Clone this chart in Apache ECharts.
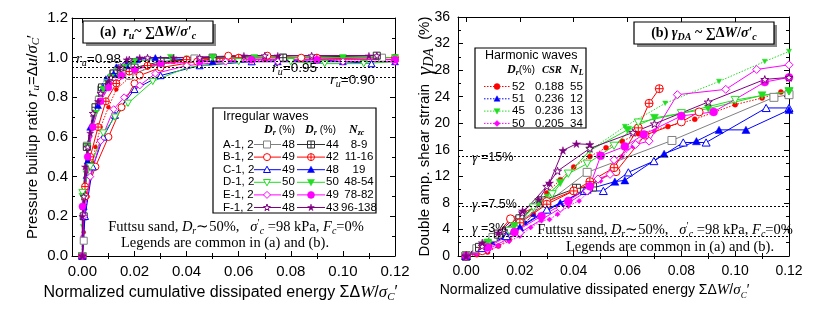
<!DOCTYPE html>
<html><head><meta charset="utf-8">
<script src="https://cdn.jsdelivr.net/npm/echarts@6/dist/echarts.min.js"></script>
<style>html,body{margin:0;padding:0;background:#fff}#c{width:831px;height:317px}</style>
</head><body><div id="c"></div><script>
// ---------- data ----------
const xTicks = [0, 0.02, 0.04, 0.06, 0.08, 0.10, 0.12];
const xMinor = [0.01, 0.03, 0.05, 0.07, 0.09, 0.11];
const caseLabels = ['A-1, 2', 'B-1, 2', 'C-1, 2', 'D-1, 2', 'E-1, 2', 'F-1, 2'];
const drOpen = [48, 49, 49, 50, 49, 48];
const drFilled = [44, 42, 48, 50, 49, 43];
const nzc = ['8-9', '11-16', '19', '48-54', '78-82', '96-138'];
const hDr = [52, 51, 45, 50];
const hCSR = ['0.188', '0.236', '0.236', '0.205'];
const hNL = [55, 12, 13, 34];
const ruLines = [0.98, 0.95, 0.90];
const gammaLines = [15, 7.5, 3];

// (a) pore pressure ratio
const ruA1 = [[0,0],[0.0005,0.077],[0.0017,0.556],[0.0063,0.787],[0.0072,0.84],[0.0118,0.92],[0.018,0.91],[0.03,0.97],[0.043,0.996],[0.077,1.0],[0.115,1.0]];
const ruA2 = [[0,0],[0.0005,0.2],[0.0017,0.55],[0.005,0.75],[0.0075,0.85],[0.012,0.92],[0.02,0.95],[0.03,0.98],[0.05,1.0],[0.077,1.0],[0.113,1.01]];
const ruB1 = [[0,0],[0.001,0.3],[0.005,0.45],[0.01,0.6],[0.015,0.75],[0.02,0.87],[0.022,0.91],[0.03,0.95],[0.044,0.98],[0.056,1.01],[0.071,1.01],[0.084,1.0],[0.12,0.99]];
const ruB2 = [[0,0],[0.001,0.35],[0.003,0.5],[0.006,0.65],[0.009,0.78],[0.013,0.87],[0.018,0.93],[0.025,0.96],[0.04,0.99],[0.06,1.0],[0.09,1.0],[0.12,1.0]];
const ruC1 = [[0,0],[0.001,0.2],[0.004,0.45],[0.008,0.6],[0.0125,0.71],[0.02,0.84],[0.03,0.91],[0.045,0.96],[0.065,0.98],[0.09,0.99],[0.111,0.97]];
const ruC2 = [[0,0],[0.0005,0.25],[0.002,0.48],[0.003,0.65],[0.006,0.76],[0.008,0.85],[0.012,0.92],[0.017,0.96],[0.021,0.99],[0.028,1.0],[0.05,0.98],[0.075,0.98],[0.1,0.98],[0.12,0.98]];
const ruD1 = [[0,0],[0,0.32],[0.003,0.45],[0.008,0.62],[0.0125,0.7],[0.0175,0.77],[0.027,0.88],[0.04,0.95],[0.06,0.98],[0.08,0.98],[0.093,0.97],[0.108,0.97],[0.12,0.98]];
const ruD2 = [[0,0],[0,0.3],[0.002,0.55],[0.005,0.72],[0.008,0.84],[0.011,0.9],[0.016,0.95],[0.02,0.98],[0.034,1.0],[0.05,1.0],[0.066,1.0],[0.1,1.0],[0.12,1.0]];
const ruE1 = [[0,0],[0.0005,0.2],[0.003,0.4],[0.007,0.58],[0.012,0.74],[0.016,0.8],[0.022,0.86],[0.028,0.92],[0.04,0.96],[0.055,0.98],[0.075,0.98],[0.1,0.98],[0.12,0.98]];
const ruE2 = [[0,0],[0,0.25],[0.002,0.5],[0.004,0.65],[0.007,0.78],[0.01,0.85],[0.015,0.91],[0.02,0.94],[0.03,0.97],[0.045,0.98],[0.065,0.99],[0.09,0.99],[0.12,0.99]];
const ruF1 = [[0,0],[0.0005,0.3],[0.002,0.55],[0.004,0.72],[0.007,0.82],[0.011,0.9],[0.015,0.95],[0.018,0.99],[0.025,1.0],[0.045,1.0],[0.07,1.01],[0.088,1.01],[0.113,1.01]];
const ruF2 = [[0,0],[0,0.2],[0.001,0.45],[0.003,0.62],[0.006,0.78],[0.01,0.88],[0.014,0.95],[0.017,0.99],[0.022,1.0],[0.035,1.0],[0.062,1.01],[0.075,1.01],[0.11,1.01]];
const ruH1 = [[0,0],[0.0005,0.12],[0.001,0.2],[0.002,0.3],[0.003,0.4],[0.004,0.47],[0.005,0.55],[0.007,0.65],[0.01,0.75],[0.013,0.84],[0.018,0.9],[0.025,0.95],[0.035,0.98],[0.05,0.99],[0.07,0.99],[0.09,0.99],[0.12,0.99]];
const ruH2 = [[0,0],[0,0.1],[0.0005,0.25],[0.001,0.4],[0.002,0.55],[0.003,0.65],[0.005,0.75],[0.007,0.85],[0.009,0.9],[0.013,0.96],[0.017,0.98],[0.025,1.0],[0.03,1.0]];
const ruH3 = [[0,0],[0,0.15],[0.0005,0.3],[0.001,0.42],[0.002,0.55],[0.004,0.7],[0.006,0.8],[0.009,0.88],[0.013,0.94],[0.018,0.97],[0.025,0.99],[0.04,1.0],[0.06,1.0],[0.09,1.0],[0.12,1.0]];
const ruH4 = [[0,0],[0,0.1],[0.0005,0.2],[0.001,0.3],[0.0015,0.4],[0.002,0.5],[0.003,0.6],[0.004,0.68],[0.006,0.75],[0.008,0.82],[0.011,0.87],[0.015,0.92],[0.02,0.95],[0.03,0.97],[0.05,0.98],[0.08,0.99],[0.12,0.99]];

// (b) double amplitude shear strain (%)
const gdA1 = [[0,0],[0.004,1.1],[0.01,2.8],[0.02,5.2],[0.03,8.0],[0.045,12.6],[0.0765,17.4],[0.1144,23.9],[0.12,24.3]];
const gdA2 = [[0,0],[0.005,1.3],[0.012,3.3],[0.02,5.6],[0.028,8.3],[0.041,10.2],[0.047,10.4]];
const gdB1 = [[0,0],[0.006,0.8],[0.0165,5.6],[0.03,8.2],[0.046,10.8],[0.0557,12.7],[0.0665,18.2],[0.080,20.2],[0.0866,21.7]];
const gdB2 = [[0,0],[0.008,1.5],[0.02,5],[0.03,7.8],[0.04,9.8],[0.046,11.2],[0.055,13.3],[0.064,19.3],[0.068,23],[0.0718,25.2]];
const gdC1 = [[0,0],[0.006,1.2],[0.015,3],[0.03,7],[0.044,9.8],[0.051,9.8],[0.0603,12.6],[0.0698,14.3],[0.0807,17.1],[0.0892,17.1],[0.1115,22.3],[0.12,22.3]];
const gdC2 = [[0,0],[0.008,1.8],[0.02,4.3],[0.035,8],[0.045,10],[0.0553,11.2],[0.059,11.4],[0.0736,15.4],[0.0856,17.3],[0.094,19],[0.104,19],[0.12,22]];
const gdD1 = [[0,0],[0.008,1.8],[0.016,3.8],[0.025,7.3],[0.032,9.3],[0.038,12.4],[0.045,13.9],[0.055,16.6],[0.064,20.1],[0.08,21.5],[0.1,23.5],[0.12,24.8]];
const gdD2 = [[0,0],[0.008,2],[0.018,4.5],[0.027,8],[0.035,11],[0.046,15.9],[0.06,19],[0.07,20.8],[0.09,22.2],[0.11,24.2],[0.12,24.8]];
const gdE1 = [[0,0],[0.008,1],[0.02,3.5],[0.035,7.2],[0.045,9.8],[0.049,11.6],[0.0535,12.3],[0.055,14.5],[0.063,16.8],[0.068,17.3],[0.0785,24.3],[0.0965,25.1],[0.108,28.1],[0.12,28.8]];
const gdE2 = [[0,0],[0.008,1.3],[0.018,3.6],[0.028,6],[0.038,8.3],[0.046,10.5],[0.05,15.1],[0.059,16.5],[0.066,18.3],[0.08,21.1],[0.092,21.7],[0.111,26.2],[0.12,26.9]];
const gdF1 = [[0,0],[0.006,1.5],[0.014,3.8],[0.021,6.5],[0.03,10.5],[0.034,12.8],[0.046,16.2],[0.062,18.6],[0.07,19.9],[0.09,23.2],[0.111,26.6],[0.12,26.9]];
const gdF2 = [[0,0],[0.006,2],[0.012,3.5],[0.021,6.8],[0.027,8.5],[0.031,11],[0.036,15.9],[0.041,16.9],[0.046,16.8]];
const gdH1 = [[0,0],[0.004,0.2],[0.008,0.6],[0.012,1.5],[0.016,2.5],[0.02,4],[0.025,6.3],[0.03,9.5],[0.035,11.5],[0.04,13.4],[0.046,15],[0.052,16.3],[0.058,17.3],[0.064,18.4],[0.075,19.5],[0.085,20.6],[0.1,22.8],[0.11,23.8],[0.117,24.7]];
const gdH2 = [[0,0],[0.003,0.6],[0.006,1.2],[0.01,2],[0.014,2.8],[0.018,3.8],[0.022,5],[0.025,6.3],[0.028,8.4]];
const gdH3 = [[0,0],[0.004,1.2],[0.008,2.2],[0.012,3.2],[0.016,4],[0.02,5],[0.025,7.5],[0.03,9],[0.038,12.4],[0.046,15.9],[0.059,19.5],[0.074,23],[0.094,26.3],[0.111,29.3],[0.12,30.8]];
const gdH4 = [[0,0],[0.004,0.3],[0.008,0.8],[0.012,1.5],[0.016,2.2],[0.02,3],[0.024,4.3],[0.028,5.3],[0.031,5.5],[0.034,6.3],[0.038,7.5],[0.042,8.3],[0.046,9.8],[0.05,11.3],[0.054,13],[0.058,15],[0.062,16.5],[0.066,18],[0.07,18.8]];

// ---------- styling ----------
const P = {
  rect: 'M0,0L10,0L10,10L0,10Z',
  rectX: 'M0,0L10,0L10,10L0,10Z M5,0L5,10 M0,5L10,5',
  circle: 'M0,5A5,5 0 1,1 10,5A5,5 0 1,1 0,5Z',
  circleX: 'M0,5A5,5 0 1,1 10,5A5,5 0 1,1 0,5Z M5,0L5,10 M0,5L10,5',
  tri: 'M5,0L10,9L0,9Z',
  triD: 'M0,0L10,0L5,9Z',
  diamond: 'M5,0L10,5L5,10L0,5Z',
  star: 'M50,0L61,35L98,35L68,57L79,91L50,70L21,91L32,57L2,35L39,35Z'
};
const POLY = {
  tri: [[0.5,0],[1,0.9],[0,0.9]],
  triD: [[0,0.1],[1,0.1],[0.5,1]],
  diamond: [[0.5,0],[1,0.5],[0.5,1],[0,0.5]],
  star: [[0.5,0],[0.61,0.37],[0.98,0.37],[0.68,0.59],[0.79,0.95],[0.5,0.73],[0.21,0.95],[0.32,0.59],[0.02,0.37],[0.39,0.37]]
};
const cols = ['#808080', '#ff0000', '#0000ff', '#22dd22', '#ff00ff', '#800080'];
const colsFilled = ['#303030', '#ff0000', '#0000ff', '#22dd22', '#ff00ff', '#800080'];
const symOpen = ['rect', 'circle', 'tri', 'triD', 'diamond', 'star'];
const symFilled = [['rectX', true], ['circleX', true], ['tri', false], ['triD', false], ['circle', false], ['star', false]];
const ruOpen = [ruA1, ruB1, ruC1, ruD1, ruE1, ruF1];
const ruFilled = [ruA2, ruB2, ruC2, ruD2, ruE2, ruF2];
const gdOpen = [gdA1, gdB1, gdC1, gdD1, gdE1, gdF1];
const gdFilled = [gdA2, gdB2, gdC2, gdD2, gdE2, gdF2];
const hCols = ['#ff0000', '#0000ff', '#22dd22', '#ff00ff'];
const hSym = ['circle', 'tri', 'triD', 'diamond'];
const ruH = [ruH1, ruH2, ruH3, ruH4];
const gdH = [gdH1, gdH2, gdH3, gdH4];

const SANS = 'Liberation Sans, Arial, sans-serif';
const SERIF = 'Liberation Serif, Times New Roman, serif';

function mkSeries(data, g, col, sym, open, size, dotted) {
  return {
    type: 'line', xAxisIndex: g * 4, yAxisIndex: g * 2, data: data,
    symbol: 'path://' + P[sym], symbolSize: size, symbolKeepAspect: true,
    lineStyle: { color: col, width: 1, type: dotted ? [1.5, 1.5] : 'solid' },
    itemStyle: open ? { color: '#fff', borderColor: col, borderWidth: 1 } : { color: col, borderColor: col, borderWidth: 0.5 },
    emphasis: { disabled: true }, animation: false, z: dotted ? 2 : 3
  };
}
const series = [];
for (let g = 0; g < 2; g++) {
  const H = g ? gdH : ruH;
  for (let i = 0; i < 4; i++) series.push(mkSeries(H[i], g, hCols[i], hSym[i], false, g ? 5 : 4, true));
  const O = g ? gdOpen : ruOpen, F = g ? gdFilled : ruFilled;
  for (let i = 0; i < 6; i++) {
    series.push(mkSeries(O[i], g, cols[i], symOpen[i], true, g ? 8 : 7, false));
    series.push(mkSeries(F[i], g, colsFilled[i], symFilled[i][0], symFilled[i][1], g ? 8 : 7, false));
  }
}
series.push({ type: 'line', xAxisIndex: 0, yAxisIndex: 0, data: [], silent: true,
  markLine: { silent: true, symbol: 'none', animation: false, label: { show: false },
    lineStyle: { color: '#000', type: [2, 2], width: 1 }, data: ruLines.map(v => ({ yAxis: v })) } });
series.push({ type: 'line', xAxisIndex: 4, yAxisIndex: 2, data: [], silent: true,
  markLine: { silent: true, symbol: 'none', animation: false, label: { show: false },
    lineStyle: { color: '#000', type: [2, 2], width: 1 }, data: gammaLines.map(v => ({ yAxis: v })) } });

function richX(fs) {
  return {
    n: { fontFamily: SANS, fontSize: fs, color: '#000', lineHeight: 20 },
    i: { fontFamily: SERIF, fontSize: fs + 1, fontStyle: 'italic', color: '#000', lineHeight: 20 },
    s: { fontFamily: SERIF, fontSize: fs - 5, fontStyle: 'italic', color: '#000', lineHeight: 20, verticalAlign: 'bottom' }
  };
}
const xName = '{n|Normalized cumulative dissipated energy ΣΔ}{i|W}{n|/}{i|σ}{s|C}{n|′}';

function xAxes(g, min, fs, labelFs, pad) {
  const base = { gridIndex: g, type: 'value', min: min, max: 0.12, splitLine: { show: false } };
  return [
    Object.assign({}, base, {
      position: 'bottom',
      axisLine: { show: true, onZero: false, lineStyle: { color: '#000', width: 1 } },
      axisTick: { show: true, inside: true, length: 5, customValues: xTicks, lineStyle: { color: '#000' } },
      axisLabel: { customValues: xTicks, formatter: v => v.toFixed(2), color: '#000', fontFamily: SANS, fontSize: labelFs, margin: 8 },
      name: xName, nameLocation: 'middle', nameGap: 22,
      nameTextStyle: { rich: richX(fs), padding: [0, pad, 0, 0] }
    }),
    Object.assign({}, base, {
      position: 'bottom', axisLine: { show: false },
      axisTick: { show: true, inside: true, length: 3, customValues: xMinor, lineStyle: { color: '#000' } },
      axisLabel: { show: false }
    }),
    Object.assign({}, base, {
      position: 'top',
      axisLine: { show: true, onZero: false, lineStyle: { color: '#000', width: 1 } },
      axisTick: { show: true, inside: true, length: 5, customValues: xTicks, lineStyle: { color: '#000' } },
      axisLabel: { show: false }
    }),
    Object.assign({}, base, {
      position: 'top', axisLine: { show: false },
      axisTick: { show: true, inside: true, length: 3, customValues: xMinor, lineStyle: { color: '#000' } },
      axisLabel: { show: false }
    })
  ];
}
function yAxes(g, max, interval, fmt, name, nameGap, rich, labelFs) {
  const base = { gridIndex: g, type: 'value', min: 0, max: max, interval: interval, splitLine: { show: false },
    axisLine: { show: true, onZero: false, lineStyle: { color: '#000', width: 1 } },
    axisTick: { show: true, inside: true, length: 5, lineStyle: { color: '#000' } },
    minorTick: { show: true, splitNumber: 2, length: 3, lineStyle: { color: '#000' } } };
  return [
    Object.assign({}, base, { position: 'left',
      axisLabel: { formatter: fmt, color: '#000', fontFamily: SANS, fontSize: labelFs, margin: g ? 8 : 4 },
      name: name, nameLocation: 'middle', nameGap: nameGap, nameMoveOverlap: false, nameTextStyle: { rich: rich } }),
    Object.assign({}, base, { position: 'right', axisLabel: { show: false } })
  ];
}
const richYa = {
  n: { fontFamily: SANS, fontSize: 15, color: '#000', lineHeight: 18 },
  i: { fontFamily: SERIF, fontSize: 17, fontStyle: 'italic', color: '#000', lineHeight: 18 },
  s: { fontFamily: SERIF, fontSize: 11, fontStyle: 'italic', color: '#000', lineHeight: 18, verticalAlign: 'bottom' }
};
const richYb = {
  n: { fontFamily: SANS, fontSize: 15, color: '#000', lineHeight: 22 },
  g: { fontFamily: SERIF, fontSize: 22, fontStyle: 'italic', color: '#000', lineHeight: 22 },
  s: { fontFamily: SERIF, fontSize: 14, fontStyle: 'italic', color: '#000', lineHeight: 22, verticalAlign: 'bottom' }
};

// ---------- graphic (boxes, legends, notes) ----------
const graphic = [];
function txt(x, y, text, rich, align) {
  graphic.push({ type: 'text', z: 100, style: { x: x, y: y, text: text, rich: rich, align: align || 'left', verticalAlign: 'middle' } });
}
function box(x, y, w, h, shadow) {
  if (shadow) graphic.push({ type: 'rect', z: 98, shape: { x: x + 3, y: y + 3, width: w, height: h }, style: { fill: '#888' } });
  graphic.push({ type: 'rect', z: 99, shape: { x: x, y: y, width: w, height: h }, style: { fill: '#fff', stroke: '#000', lineWidth: 1.2 } });
}
function sym(x, y, key, col, open, size) {
  const st = open ? { fill: '#fff', stroke: col, lineWidth: 1 } : { fill: col, stroke: col, lineWidth: 0.5 };
  const h = size / 2;
  if (key === 'rect' || key === 'rectX') {
    graphic.push({ type: 'rect', z: 101, shape: { x: x - h, y: y - h, width: size, height: size }, style: st });
  } else if (key === 'circle' || key === 'circleX') {
    graphic.push({ type: 'circle', z: 101, shape: { cx: x, cy: y, r: h }, style: st });
  } else {
    graphic.push({ type: 'polygon', z: 101, shape: { points: POLY[key].map(p => [x - h + p[0] * size, y - h + p[1] * size]) }, style: st });
  }
  if (key === 'rectX' || key === 'circleX') {
    graphic.push({ type: 'line', z: 102, shape: { x1: x - h, y1: y, x2: x + h, y2: y }, style: { stroke: col, lineWidth: 1 } });
    graphic.push({ type: 'line', z: 102, shape: { x1: x, y1: y - h, x2: x, y2: y + h }, style: { stroke: col, lineWidth: 1 } });
  }
}
function seg(x1, x2, y, col, dotted) {
  graphic.push({ type: 'line', z: 100, shape: { x1: x1, y1: y, x2: x2, y2: y }, style: { stroke: col, lineWidth: 1, lineDash: dotted ? [1.5, 1.5] : null } });
}
const rs = {
  n: { fontFamily: SANS, fontSize: 11.5, fill: '#000' },
  t: { fontFamily: SERIF, fontSize: 14.5, fill: '#000' },
  ti: { fontFamily: SERIF, fontSize: 14.5, fontStyle: 'italic', fill: '#000' },
  tsub: { fontFamily: SERIF, fontSize: 10, fontStyle: 'italic', fill: '#000', padding: [8, 0, 0, 0] },
  tsup: { fontFamily: SERIF, fontSize: 10, fill: '#000', padding: [0, 0, 8, 0] },
  b: { fontFamily: SERIF, fontSize: 14, fontWeight: 'bold', fill: '#000' },
  bi: { fontFamily: SERIF, fontSize: 14, fontWeight: 'bold', fontStyle: 'italic', fill: '#000' },
  bsub: { fontFamily: SERIF, fontSize: 10, fontWeight: 'bold', fontStyle: 'italic', fill: '#000', padding: [8, 0, 0, 0] },
  hi: { fontFamily: SERIF, fontSize: 12, fontWeight: 'bold', fontStyle: 'italic', fill: '#000' },
  hsub: { fontFamily: SERIF, fontSize: 8, fontWeight: 'bold', fontStyle: 'italic', fill: '#000', padding: [6, 0, 0, 0] },
  hn: { fontFamily: SANS, fontSize: 10.5, fill: '#000' },
  hs: { fontFamily: SERIF, fontSize: 10.5, fontWeight: 'bold', fontStyle: 'italic', fill: '#000' },
  gi: { fontFamily: SERIF, fontSize: 14, fontStyle: 'italic', fill: '#000' },
  gn: { fontFamily: SANS, fontSize: 12.5, fill: '#000' },
  ri: { fontFamily: SERIF, fontSize: 15, fontStyle: 'italic', fill: '#000' },
  rsub: { fontFamily: SERIF, fontSize: 10, fontStyle: 'italic', fill: '#000', padding: [8, 0, 0, 0] },
  rn: { fontFamily: SANS, fontSize: 13.5, fill: '#000' },
  l: { fontFamily: SANS, fontSize: 12.5, fill: '#000' }
};

// title boxes
box(83, 21, 130, 22, true);
txt(148, 32, '{b|(a)  }{bi|r}{bsub|u}{b|~ ∑Δ}{bi|W}{b|/}{bi|σ′}{bsub|c}', rs, 'center');
box(634, 22, 140, 22, true);
txt(704, 33, '{b|(b) }{bi|γ}{bsub|DA}{b| ~ ∑Δ}{bi|W}{b|/}{bi|σ′}{bsub|c}', rs, 'center');

// ru labels
txt(76, 59, '{ri|r}{rsub|u}{rn|=' + ruLines[0].toFixed(2) + '}', rs);
txt(272, 68, '{ri|r}{rsub|u}{rn|=' + ruLines[1].toFixed(2) + '}', rs);
txt(330, 80, '{ri|r}{rsub|u}{rn|=' + ruLines[2].toFixed(2) + '}', rs);
// gamma labels
txt(472, 158, '{gi|γ }{gn|=' + gammaLines[0] + '%}', rs);
txt(472, 205, '{gi|γ }{gn|=' + gammaLines[1] + '%}', rs);
txt(472, 229, '{gi|γ }{gn|=' + gammaLines[2] + '%}', rs);

// irregular legend (a)
box(213, 108, 163, 105, false);
txt(223, 117, '{l|Irregular waves}', rs);
txt(264, 130, '{hi|D}{hsub|r}{hn| (%)}', rs);
txt(305, 130, '{hi|D}{hsub|r}{hn| (%)}', rs);
txt(349, 130, '{hi|N}{hsub|zc}', rs);
for (let i = 0; i < 6; i++) {
  const y = 144.5 + i * 12.6;
  txt(223, y, '{n|' + caseLabels[i] + '}', rs);
  seg(254, 281, y, cols[i], false);
  sym(267, y, symOpen[i], cols[i], true, 7);
  txt(282, y, '{n|' + drOpen[i] + '}', rs);
  seg(297, 325, y, colsFilled[i], false);
  sym(311, y, symFilled[i][0], colsFilled[i], symFilled[i][1], 7);
  txt(326, y, '{n|' + drFilled[i] + '}', rs);
  txt(359, y, '{n|' + nzc[i] + '}', rs, 'center');
}
// harmonic legend (b)
box(475, 48, 111, 80, false);
txt(485, 56, '{l|Harmonic waves}', rs);
txt(507, 70, '{hi|D}{hsub|r}{hn|(%)}', rs);
txt(542, 70, '{hs|CSR}', rs);
txt(570, 70, '{hi|N}{hsub|L}', rs);
for (let i = 0; i < 4; i++) {
  const y = 86.5 + i * 12.3;
  seg(484, 510, y, hCols[i], true);
  sym(497, y, hSym[i], hCols[i], false, 6);
  txt(512, y, '{n|' + hDr[i] + '}', rs);
  txt(535, y, '{n|' + hCSR[i] + '}', rs);
  txt(570, y, '{n|' + hNL[i] + '}', rs);
}
// notes
const note1 = '{t|Futtsu sand, }{ti|D}{tsub|r}{t|∼50%,   }{ti|σ}{tsup|′}{tsub|c}{t| =98 kPa, }{ti|F}{tsub|c}{t|=0%}';
const note2 = '{t|Legends are common in (a) and (b).}';
txt(236, 227, note1, rs, 'center');
txt(225, 243, note2, rs, 'center');
txt(665, 230, note1, rs, 'center');
txt(670, 247, note2, rs, 'center');

const option = {
  backgroundColor: '#fff',
  animation: false,
  grid: [
    { left: 72, right: 436, top: 18, bottom: 61 },
    { left: 458, right: 42, top: 17, bottom: 61 }
  ],
  xAxis: xAxes(0, -0.004, 16, 15, 26).concat(xAxes(1, -0.003, 14, 14, 58)),
  yAxis: yAxes(0, 1.2, 0.2, v => v.toFixed(1), '{n|Pressure builup ratio }{i|r}{s|u}{n|=Δ}{i|u}{n|/}{i|σ}{s|C}{n|′}', 30, richYa, 15)
    .concat(yAxes(1, 36, 4, v => String(v), '{n|Double amp. shear strrain  }{g|γ}{s|DA}{n|  (%)}', 22, richYb, 14)),
  series: series,
  graphic: graphic
};
const chart = echarts.init(document.getElementById('c'), null, { renderer: 'canvas' });
chart.setOption(option);
</script></body></html>
